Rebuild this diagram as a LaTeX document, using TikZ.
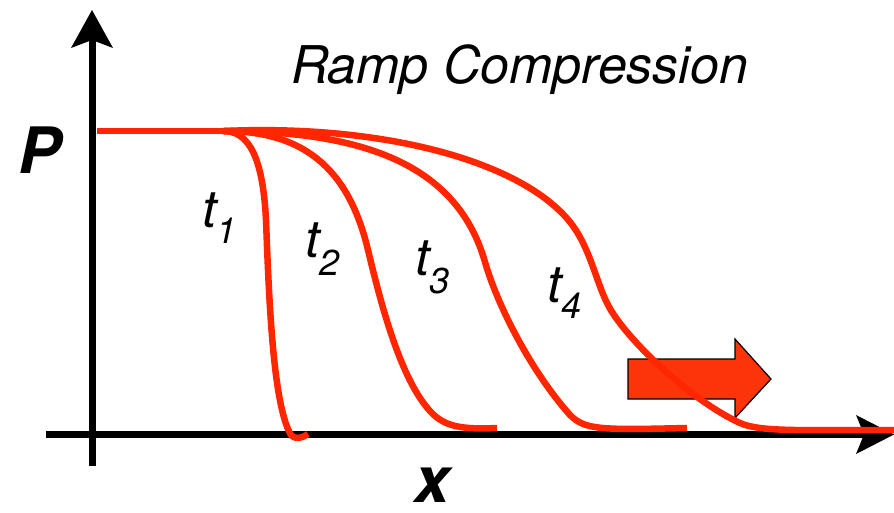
\documentclass[tikz,border=0pt]{standalone}
\usepackage{fontspec}
\setmainfont{TeX Gyre Heros}
\definecolor{curvered}{RGB}{255,38,0}
\definecolor{arrowred}{RGB}{252,52,10}
\begin{document}
\begin{tikzpicture}[x=1pt,y=-1pt,
  axisline/.style={line width=7pt,black},
  axishead/.style={fill=black,draw=none},
  profile/.style={line width=6.5pt,curvered,line join=round},
  lbl/.style={inner sep=0pt,anchor=base west},
  tlbl/.style={lbl,font=\fontsize{52}{60}\selectfont\itshape},
  biglbl/.style={lbl,font=\fontsize{64}{70}\selectfont\bfseries\itshape}]
\useasboundingbox (0,0) rectangle (894,512);
% axes
\coordinate (yb) at (92,466);
\coordinate (yt) at (92,40);
\coordinate (xl) at (46,434.5);
\coordinate (xr) at (866,434.5);
\draw[axisline] (yb) -- (yt);
\draw[axisline] (xl) -- (xr);
\fill[axishead] (92,10) -- (113,48) -- (92,40) -- (71,48) -- cycle;
\fill[axishead] (894,434.5) -- (856,415) -- (864,434.5) -- (856,454) -- cycle;
% block arrow
\draw[fill=arrowred,draw=black,line width=1.2pt,line join=miter]
  (628,359) -- (735,359) -- (735,339) -- (771,379) -- (735,418) -- (735,399) -- (628,399) -- cycle;
% flat top
\draw[profile] (97,131) -- (225,131);
% t1
\draw[profile] (222,131) .. controls (250,130) and (263,160) .. (266,220)
  .. controls (269,300) and (273,405) .. (291,435)
  .. controls (296,440) and (302,438) .. (308,434);
% t2
\draw[profile] (224,131) .. controls (310,131) and (350,175) .. (368,250)
  .. controls (380,300) and (398,370) .. (425,405)
  .. controls (440,425) and (455,430) .. (497,428);
% t3
\draw[profile] (224,131) .. controls (370,131) and (458,168) .. (485,262)
  .. controls (497,304) and (530,370) .. (570,415)
  .. controls (585,430) and (600,430) .. (687,428);
% t4
\draw[profile] (224,131) .. controls (380,124) and (520,160) .. (570,222)
  .. controls (590,247) and (596,282) .. (608,305)
  .. controls (625,338) and (690,400) .. (740,423)
  .. controls (760,432) and (800,430) .. (894,430);
% labels
\node[tlbl] (title) at (291,83) {Ramp Compression};
\node[tlbl] (t1) at (202,227) {t\raisebox{-16pt}{\fontsize{36}{40}\selectfont 1}};
\node[tlbl] (t2) at (305,257) {t\raisebox{-18pt}{\fontsize{36}{40}\selectfont 2}};
\node[tlbl] (t3) at (415,275) {t\raisebox{-18pt}{\fontsize{36}{40}\selectfont 3}};
\node[tlbl] (t4) at (547,302) {t\raisebox{-16pt}{\fontsize{36}{40}\selectfont 4}};
\node[biglbl] (P) at (18,173) {P};
\node[biglbl] (X) at (414,502) {x};
\end{tikzpicture}
\end{document}
